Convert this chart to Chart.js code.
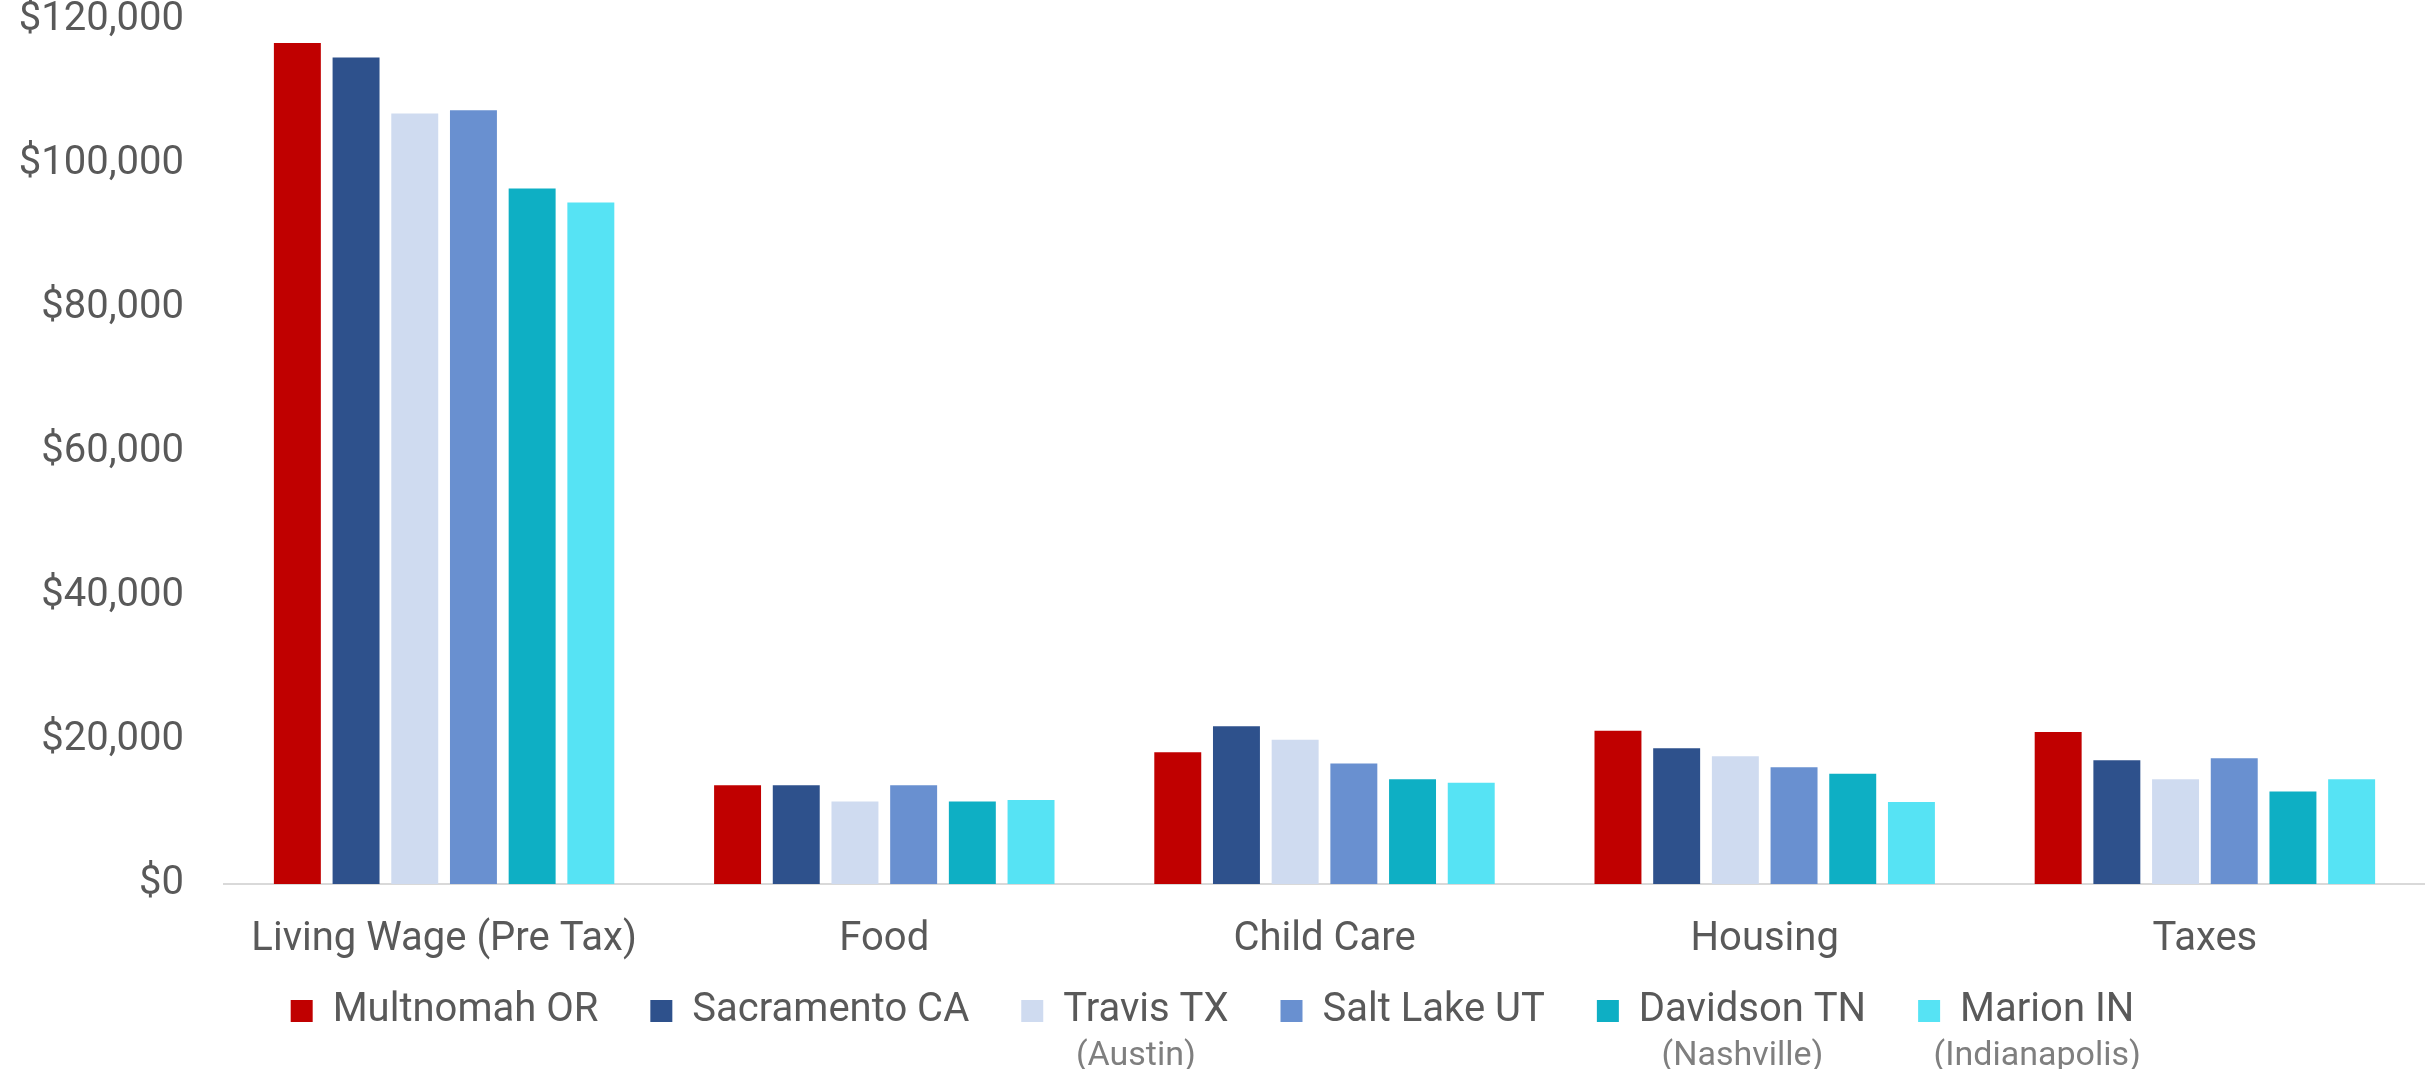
<!DOCTYPE html>
<html>
<head>
<meta charset="utf-8">
<script src="https://cdn.jsdelivr.net/npm/chart.js@4"></script>
<style>
  body { margin: 0; background: #fff; }
  #wrap { width: 2425px; height: 1069px; }
</style>
</head>
<body>
<div id="wrap"><canvas id="costChart"></canvas></div>
<script>
const categories = ["Living Wage (Pre Tax)", "Food", "Child Care", "Housing", "Taxes"];
const seriesNames = ["Multnomah OR", "Sacramento CA", "Travis TX", "Salt Lake UT", "Davidson TN", "Marion IN"];
const seriesSubNames = ["", "", "(Austin)", "", "(Nashville)", "(Indianapolis)"];
const seriesColors = ["#C00000", "#2E518C", "#CFDBF0", "#6990D0", "#0EAFC4", "#56E3F4"];

const multnomah = [116800, 13700, 18300, 21300, 21100];
const sacramento = [114800, 13700, 21900, 18850, 17200];
const travis = [107000, 11450, 20050, 17750, 14550];
const saltLake = [107450, 13700, 16750, 16200, 17450];
const davidson = [96600, 11450, 14550, 15300, 12850];
const marion = [94650, 11650, 14050, 11400, 14550];
const allSeries = [multnomah, sacramento, travis, saltLake, davidson, marion];

const yTicks = [0, 20000, 40000, 60000, 80000, 100000, 120000];

const textColor = "#595959";
const subColor = "#7F7F7F";
const fontFamily = "Roboto, 'Open Sans', sans-serif";

// sotto-etichette della legenda (Austin, Nashville...)
const subLabelPlugin = {
  id: "subLabels",
  afterLayout(chart) {
    // lascia spazio alle etichette dell'asse x (non tagliarle)
    const x = chart.scales.x;
    x.bottom = x.top + 100;
  },
  afterDraw(chart) {
    const legend = chart.legend;
    if (!legend || !legend.legendHitBoxes) return;
    const c = chart.ctx;
    const opts = legend.options.labels;
    const fontSize = opts.font.size;
    c.save();
    c.font = "34px " + fontFamily;
    c.fillStyle = subColor;
    c.textAlign = "center";
    c.textBaseline = "middle";
    legend.legendHitBoxes.forEach((box, i) => {
      const sub = seriesSubNames[i];
      if (!sub) return;
      const textStart = box.left + opts.boxWidth + fontSize / 2;
      const textWidth = box.width - opts.boxWidth - fontSize / 2;
      c.fillText(sub, textStart + textWidth / 2 - 10, box.top + box.height / 2 + 45);
    });
    c.restore();
  }
};

window.addEventListener("DOMContentLoaded", () => {
  const ctx = document.getElementById("costChart").getContext("2d");

  new Chart(ctx, {
    type: "bar",
    data: {
      labels: categories,
      datasets: seriesNames.map((name, i) => ({
        label: name,
        data: allSeries[i],
        backgroundColor: seriesColors[i],
        borderWidth: 0,
        categoryPercentage: 0.8,
        barPercentage: 0.8
      }))
    },
    options: {
      responsive: true,
      maintainAspectRatio: false,
      animation: false,
      layout: { padding: { top: 0, right: 0, bottom: 28, left: 0 } },
      plugins: {
        tooltip: { enabled: false },
        legend: {
          position: "bottom",
          labels: {
            boxWidth: 22,
            boxHeight: 22,
            padding: 52,
            color: textColor,
            font: { family: fontFamily, size: 40 }
          }
        }
      },
      scales: {
        x: {
          grid: { display: false, drawTicks: false },
          border: { display: true, color: "#D9D9D9", width: 2 },
          ticks: {
            color: textColor,
            padding: 32,
            maxRotation: 0,
            font: { family: fontFamily, size: 40 }
          },
          afterFit: (scale) => { scale.height = 55; }
        },
        y: {
          min: 0,
          max: 120000,
          grid: { display: false, drawTicks: false },
          border: { display: false },
          afterBuildTicks: (scale) => {
            scale.ticks = yTicks.map(v => ({ value: v }));
          },
          ticks: {
            color: textColor,
            padding: 40,
            font: { family: fontFamily, size: 40, lineHeight: 1.0 },
            callback: (v) => "$" + Number(v).toLocaleString("en-US")
          },
          afterFit: (scale) => {
            scale.width = 224;
            scale.paddingTop = 20;
            scale.paddingBottom = 20;
          }
        }
      }
    },
    plugins: [subLabelPlugin]
  });
});
</script>
</body>
</html>
